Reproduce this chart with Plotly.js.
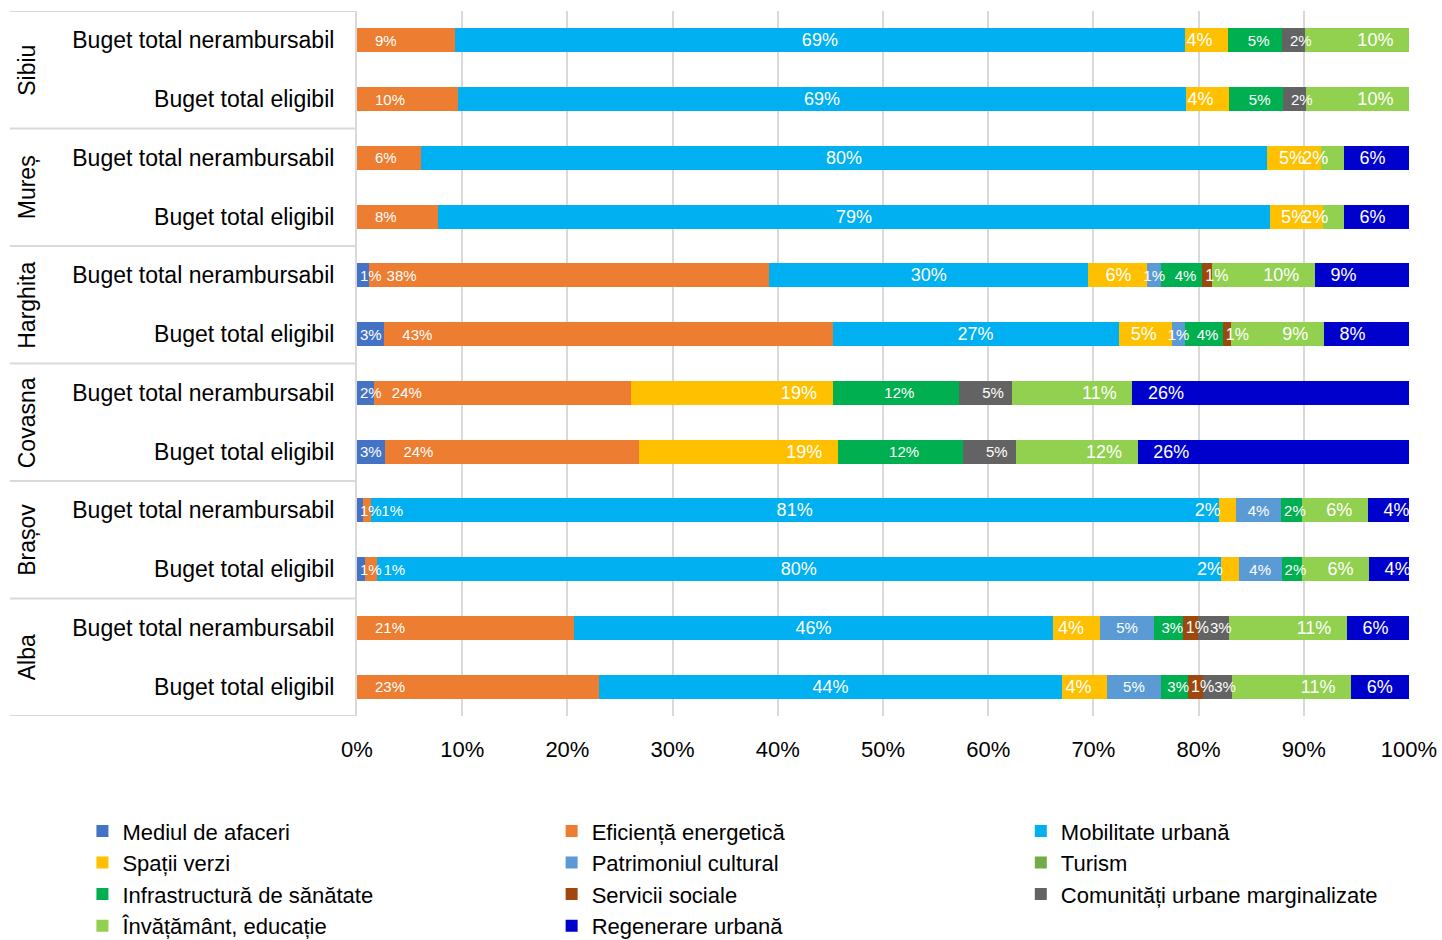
<!DOCTYPE html>
<html>
<head>
<meta charset="utf-8">
<script src="https://cdn.plot.ly/plotly-3.0.1.min.js"></script>
<style>
  html, body { margin: 0; padding: 0; background: #ffffff; }
  #chart { width: 1442px; height: 940px; }
</style>
</head>
<body>
<div id="chart"></div>
<script>
// Rows listed top to bottom
const counties = ["Sibiu", "Mureș", "Harghita", "Covasna", "Brașov", "Alba"];
const budgetTypes = ["Buget total nerambursabil", "Buget total eligibil"];

// Shares (%) per row: Sibiu N, Sibiu E, Mureș N, Mureș E, Harghita N, Harghita E,
// Covasna N, Covasna E, Brașov N, Brașov E, Alba N, Alba E
const mediulAfaceri      = [0, 0, 0, 0, 1.1, 2.6, 1.6, 2.7, 0.6, 0.8, 0, 0];
const eficientaEnerg     = [9.3, 9.6, 6.1, 7.7, 38.1, 42.6, 24.4, 24.1, 0.7, 1.1, 20.6, 23.0];
const mobilitateUrbana   = [69.4, 69.2, 80.4, 79.1, 30.3, 27.2, 0, 0, 80.6, 80.2, 45.6, 44.0];
const spatiiVerzi        = [4.1, 4.1, 5.1, 5.0, 5.6, 5.1, 19.2, 18.9, 1.7, 1.7, 4.4, 4.3];
const patrimoniuCultural = [0, 0, 0, 0, 1.35, 1.2, 0, 0, 4.2, 4.1, 5.2, 5.1];
const turism             = [0, 0, 0, 0, 0, 0, 0, 0, 0, 0, 0, 0];
const infraSanatate      = [5.1, 5.1, 0, 0, 3.9, 3.6, 12.0, 11.9, 2.0, 1.9, 2.7, 2.6];
const serviciiSociale    = [0, 0, 0, 0, 0.9, 0.8, 0, 0, 0, 0, 1.4, 1.4];
const comunitatiMarg     = [2.2, 2.2, 0, 0, 0, 0, 5.1, 5.0, 0, 0, 3.0, 2.8];
const invatamant         = [9.9, 9.8, 2.2, 2.0, 9.8, 8.8, 11.4, 11.6, 6.3, 6.4, 11.2, 11.3];
const regenerareUrbana   = [0, 0, 6.2, 6.2, 8.95, 8.1, 26.3, 25.8, 3.9, 3.8, 5.9, 5.5];

const xTickVals = [0, 10, 20, 30, 40, 50, 60, 70, 80, 90, 100];
const xTickText = ["0%", "10%", "20%", "30%", "40%", "50%", "60%", "70%", "80%", "90%", "100%"];

const FONT = "Liberation Sans, Arial, sans-serif";
const EN = "\u2002", THIN = "\u2009";

// Row structure
const rowLabels = [];
counties.forEach(() => budgetTypes.forEach(b => rowLabels.push(b)));
const rowIdx = rowLabels.map((_, i) => i);

const BIG = 18, SMALL = 15;
const series = [
  {name: "Mediul de afaceri", v: mediulAfaceri, color: "#4472C4", anchor: "start", size: SMALL, pre: "", suf: ""},
  {name: "Eficiență energetică", v: eficientaEnerg, color: "#ED7D31", anchor: "start", size: SMALL, pre: EN + EN, suf: ""},
  {name: "Mobilitate urbană", v: mobilitateUrbana, color: "#00B0F0", anchor: "middle", size: BIG, pre: "", suf: ""},
  {name: "Spații verzi", v: spatiiVerzi, color: "#FFC000", anchor: "end", size: BIG, pre: "", suf: EN + THIN},
  {name: "Patrimoniul cultural", v: patrimoniuCultural, color: "#5B9BD5", anchor: "middle", size: SMALL, pre: "", suf: ""},
  {name: "Turism", v: turism, color: "#70AD47", anchor: "middle", size: SMALL, pre: "", suf: ""},
  {name: "Infrastructură de sănătate", v: infraSanatate, color: "#00B050", anchor: "middle", size: SMALL, pre: EN, suf: ""},
  {name: "Servicii sociale", v: serviciiSociale, color: "#9E480E", anchor: "start", size: 16, pre: "", suf: ""},
  {name: "Comunități urbane marginalizate", v: comunitatiMarg, color: "#636363", anchor: "middle", size: SMALL, pre: EN + EN, suf: ""},
  {name: "Învățământ, educație", v: invatamant, color: "#92D050", anchor: "end", size: BIG, pre: "", suf: EN + THIN},
  {name: "Regenerare urbană", v: regenerareUrbana, color: "#0000CC", anchor: "start", size: BIG, pre: EN + THIN, suf: ""}
];

// Coloured bars (no text)
const barTraces = series.map(s => ({
  type: "bar",
  orientation: "h",
  name: s.name,
  x: s.v,
  y: rowIdx,
  xaxis: "x", yaxis: "y",
  marker: {color: s.color, line: {width: 0}},
  hoverinfo: "name+x"
}));

// Same stacks on an overlaid axis, transparent, carrying the data labels so they sit above all bars
const labelTraces = series.map(s => ({
  type: "bar",
  orientation: "h",
  name: s.name,
  showlegend: false,
  x: s.v,
  y: rowIdx,
  xaxis: "x", yaxis: "y2",
  marker: {color: "rgba(0,0,0,0)", line: {width: 0}},
  text: s.v.map(v => v > 0 ? s.pre + Math.round(v) + "%" + s.suf : ""),
  textposition: "inside",
  insidetextanchor: s.anchor,
  constraintext: "none",
  textangle: 0,
  textfont: {family: FONT, size: s.size, color: "#ffffff"},
  hoverinfo: "skip"
}));

// Separator lines in the label area and county labels
const shapes = [];
for (let k = 0; k <= counties.length; k++) {
  shapes.push({
    type: "line", xref: "paper", yref: "y",
    x0: -0.33, x1: 0, y0: k * budgetTypes.length - 0.5, y1: k * budgetTypes.length - 0.5,
    line: {color: "#D9D9D9", width: 2}
  });
}
const annotations = counties.map((c, k) => ({
  xref: "paper", yref: "y",
  x: -0.3137, y: k * budgetTypes.length + (budgetTypes.length - 1) / 2,
  text: c, textangle: -90, showarrow: false,
  font: {family: FONT, size: 23, color: "#000000"},
  xanchor: "center", yanchor: "middle"
}));

const yRange = [rowLabels.length - 0.5, -0.5];

const layout = {
  width: 1442, height: 940,
  margin: {l: 357, r: 33, t: 11, b: 224, autoexpand: false},
  paper_bgcolor: "#ffffff", plot_bgcolor: "#ffffff",
  barmode: "stack",
  bargap: 0.59,
  font: {family: FONT, color: "#000000"},
  xaxis: {
    range: [0, 100],
    tickvals: xTickVals, ticktext: xTickText,
    showgrid: true, gridcolor: "#D9D9D9", gridwidth: 2,
    zeroline: false, showline: false,
    ticks: "outside", ticklen: 14, tickcolor: "rgba(0,0,0,0)",
    tickfont: {family: FONT, size: 22, color: "#000000"},
    fixedrange: true
  },
  yaxis: {
    range: yRange,
    tickvals: rowIdx, ticktext: rowLabels,
    showgrid: false, zeroline: false,
    showline: true, linecolor: "#D9D9D9", linewidth: 2,
    ticks: "outside", ticklen: 16, tickcolor: "rgba(0,0,0,0)",
    tickfont: {family: FONT, size: 23, color: "#000000"},
    fixedrange: true
  },
  yaxis2: {
    overlaying: "y",
    range: yRange,
    visible: false,
    showgrid: false, zeroline: false,
    fixedrange: true
  },
  showlegend: true,
  legend: {
    orientation: "h",
    x: -0.261, xanchor: "left",
    y: -0.1335, yanchor: "top",
    entrywidthmode: "fraction", entrywidth: 0.333,
    traceorder: "normal",
    itemwidth: 30,
    font: {family: FONT, size: 22, color: "#000000"},
    bgcolor: "rgba(0,0,0,0)"
  },
  shapes: shapes,
  annotations: annotations
};

Plotly.newPlot("chart", barTraces.concat(labelTraces), layout, {displayModeBar: false, staticPlot: true});
</script>
</body>
</html>
